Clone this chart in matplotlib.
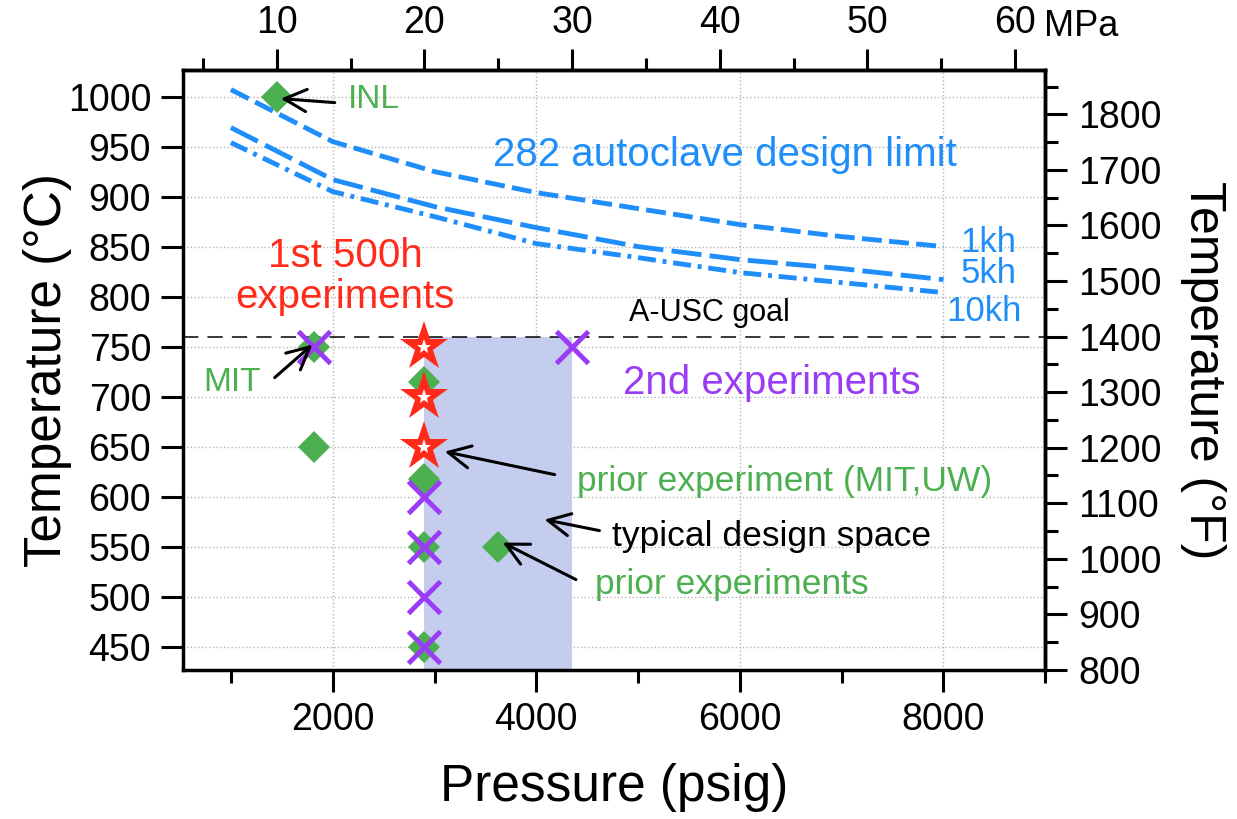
import numpy as np
import matplotlib.pyplot as plt
from matplotlib.ticker import MultipleLocator

plt.rcParams['font.family'] = ['Liberation Sans', 'DejaVu Sans']

PSI_PER_MPA = 145.038

# design limit curves of the 282 autoclave (psig, degC)
limit_psig = [1000, 2000, 3000, 4000, 5000, 6000, 7000, 8000]
limit_1kh = [1007, 955, 925, 904, 888, 872, 860, 850]
limit_5kh = [969, 917, 890, 869, 850, 837, 828, 817]
limit_10kh = [954, 905, 880, 853, 839, 824, 814, 804]

# experiments, pressure in MPa, temperature in degC
prior_mpa = [10, 12.5, 12.5, 20, 20, 20, 20, 25]
prior_temp = [1000, 750, 650, 715, 618, 550, 450, 550]
second_mpa = [12.5, 20, 20, 20, 20, 30]
second_temp = [750, 600, 550, 500, 450, 750]
first_mpa = [20, 20, 20]
first_temp = [750, 700, 650]

goal_temp = 760
space_mpa = [20, 30]

c2f = lambda c: c * 9 / 5 + 32
f2c = lambda f: (f - 32) * 5 / 9

blue = '#1f8efa'
green = '#4caf50'
purple = '#9a3cf5'
red = '#ff2a1a'

fig = plt.figure(figsize=(12.37, 8.19), dpi=100)
ax = fig.add_axes([0.148, 0.182, 0.697, 0.7326])

ax.fill_between([m * PSI_PER_MPA for m in space_mpa], 0, goal_temp,
                color='#c5cdef', lw=0, zorder=1)
ax.axhline(goal_temp, color='black', lw=1.1, dashes=(10, 6), zorder=2)

ax.plot(limit_psig, limit_1kh, color=blue, lw=3.5, dashes=(4.1, 1.5), zorder=2)
ax.plot(limit_psig, limit_5kh, color=blue, lw=3.5, dashes=(6.2, 1.7), zorder=2)
ax.plot(limit_psig, limit_10kh, color=blue, lw=3.5, dashes=(3.7, 1.4, 0.8, 1.4), zorder=2)

ax.plot(np.array(prior_mpa) * PSI_PER_MPA, prior_temp, 'D', color=green, ms=16.5, mew=0, zorder=3)
ax.plot(np.array(second_mpa) * PSI_PER_MPA, second_temp, 'x', color=purple, ms=23, mew=3.5, zorder=4)
ax.plot(np.array(first_mpa) * PSI_PER_MPA, first_temp, '*', color=red, ms=37, mew=0, zorder=5)
ax.plot(np.array(first_mpa) * PSI_PER_MPA, first_temp, '*', color='white', ms=11, mew=0, zorder=6)

ax.set_xlim(530, 9000)
ax.set_ylim(f2c(800), f2c(1880))
ax.xaxis.set_major_locator(MultipleLocator(2000))
ax.xaxis.set_minor_locator(MultipleLocator(1000))
ax.set_yticks(np.arange(450, 1001, 50))
ax.grid(True, which='major', ls=':', color='#b5b5b5', lw=1, zorder=0)
ax.set_axisbelow(True)

for s in ax.spines.values():
    s.set_linewidth(2.5)
ax.tick_params(which='both', direction='out', width=2.2, labelsize=27)
ax.tick_params(which='major', length=16, pad=7)
ax.tick_params(which='minor', length=9)
ax.set_xlabel('Pressure (psig)', fontsize=37, labelpad=18)
ax.set_ylabel('Temperature (°C)', fontsize=37, labelpad=-3)

top = ax.secondary_xaxis('top', functions=(lambda p: p / PSI_PER_MPA, lambda m: m * PSI_PER_MPA))
top.set_xticks([10, 20, 30, 40, 50, 60])
top.xaxis.set_minor_locator(MultipleLocator(5))
top.tick_params(which='both', direction='out', width=2.2, labelsize=27)
top.tick_params(which='major', length=15, pad=6)
top.tick_params(which='minor', length=9)
top.spines['top'].set_linewidth(2.5)
ax.annotate('MPa', xy=(60 * PSI_PER_MPA, 1), xycoords=('data', 'axes fraction'),
            xytext=(21, 31), textcoords='offset points', fontsize=26, ha='left', va='center')

right = ax.secondary_yaxis('right', functions=(c2f, f2c))
right.set_yticks(np.arange(800, 1801, 100))
right.yaxis.set_minor_locator(MultipleLocator(50))
right.tick_params(which='both', direction='out', width=2.2, labelsize=27)
right.tick_params(which='major', length=16, pad=8)
right.tick_params(which='minor', length=9)
right.spines['right'].set_linewidth(2.5)
right.set_ylabel('Temperature (°F)', fontsize=36, rotation=270, labelpad=13, va='bottom')

# labels
ax.text(5850, 942, '282 autoclave design limit', color=blue, fontsize=29, ha='center', va='center')
ax.text(8170, 854, '1kh', color=blue, fontsize=25, ha='left', va='center')
ax.text(8170, 823, '5kh', color=blue, fontsize=25, ha='left', va='center')
ax.text(8030, 785, '10kh', color=blue, fontsize=25, ha='left', va='center')
ax.text(5700, 784, 'A-USC goal', color='black', fontsize=22, ha='center', va='center')
ax.text(2120, 820, '1st 500h\nexperiments', color=red, fontsize=29, ha='center', va='center',
        linespacing=1.12)
ax.text(6310, 714, '2nd experiments', color=purple, fontsize=29, ha='center', va='center')
ax.text(2150, 997, 'INL', color=green, fontsize=24, ha='left', va='center')
ax.text(1010, 714, 'MIT', color=green, fontsize=24, ha='center', va='center')
ax.text(4400, 615, 'prior experiment (MIT,UW)', color=green, fontsize=25.5, ha='left', va='center')
ax.text(4740, 560, 'typical design space', color='black', fontsize=25.5, ha='left', va='center')
ax.text(4580, 512, 'prior experiments', color=green, fontsize=25.5, ha='left', va='center')

arrow = dict(arrowstyle='->,head_length=0.8,head_width=0.4', lw=2.2, color='black',
             shrinkA=0, shrinkB=0, mutation_scale=20)
for tip, tail in [((1490, 998), (2020, 994)),
                  ((1800, 752), (1430, 719)),
                  ((3100, 645), (4180, 622)),
                  ((4080, 577), (4620, 566)),
                  ((3670, 554), (4390, 517))]:
    ax.annotate('', xy=tip, xytext=tail, arrowprops=arrow, zorder=7)

fig.savefig('out.png', dpi=100)
